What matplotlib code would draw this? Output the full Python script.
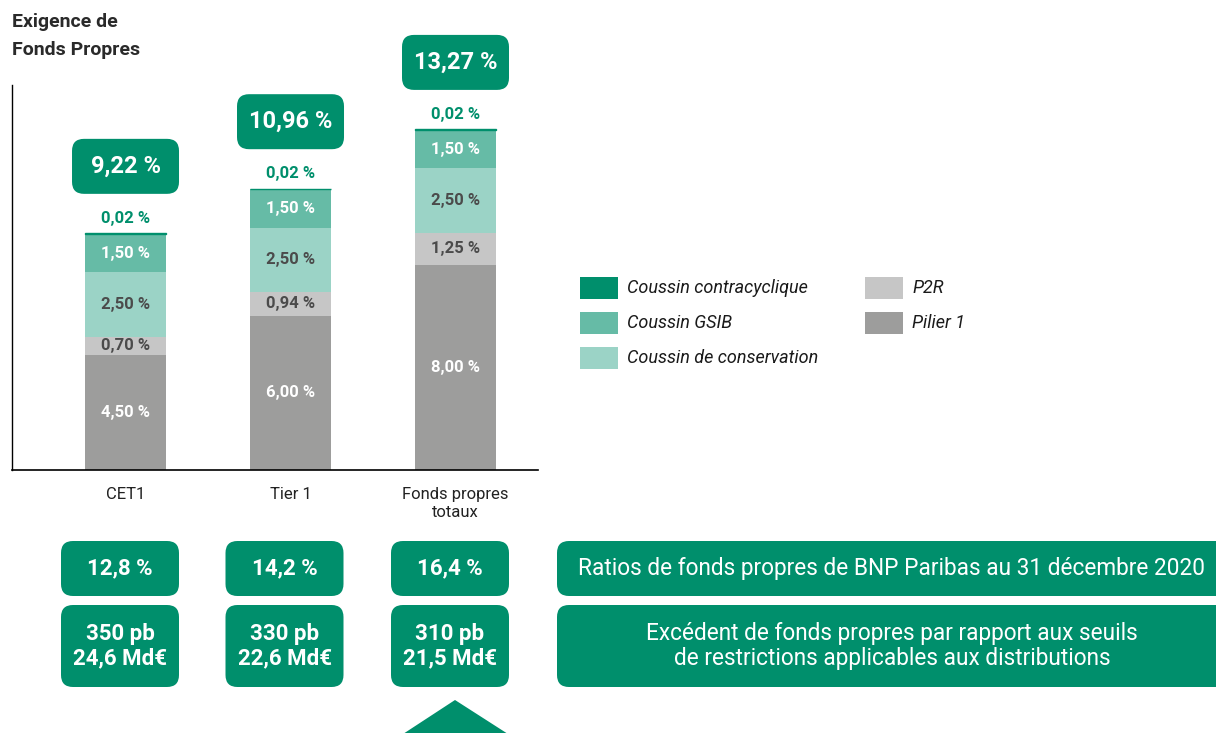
import matplotlib.pyplot as plt
from matplotlib.patches import FancyBboxPatch, Rectangle, Polygon

plt.rcParams['font.family'] = ['Roboto', 'DejaVu Sans']

# data
categories = ["CET1", "Tier 1", "Fonds propres\ntotaux"]
pilier1 = [4.50, 6.00, 8.00]
p2r = [0.70, 0.94, 1.25]
conservation = [2.50, 2.50, 2.50]
gsib = [1.50, 1.50, 1.50]
contracyclique = [0.02, 0.02, 0.02]
totals = ["9,22 %", "10,96 %", "13,27 %"]
ratios = ["12,8 %", "14,2 %", "16,4 %"]
excedents = ["350 pb\n24,6 Md€", "330 pb\n22,6 Md€", "310 pb\n21,5 Md€"]

GREEN = "#008f6c"
C_GSIB = "#66bba6"
C_CONS = "#9bd3c6"
C_P2R = "#c6c6c6"
C_P1 = "#9d9d9c"
DARK = "#4b4b4b"

W, H = 1216, 733
fig = plt.figure(figsize=(W / 100, H / 100), dpi=100)

# overlay in pixel coordinates
ov = fig.add_axes([0, 0, 1, 1])
ov.set_xlim(0, W); ov.set_ylim(H, 0); ov.axis('off')

ax = fig.add_axes([12 / W, (H - 470) / H, 526 / W, 385 / H])
ax.set_xlim(-0.688, 2.50)
ax.set_ylim(0, 15)
for s in ['top', 'right']:
    ax.spines[s].set_visible(False)
ax.spines['left'].set_linewidth(1)
ax.spines['bottom'].set_linewidth(1.2)
ax.set_xticks([]); ax.set_yticks([])
ax.patch.set_alpha(0)

x = range(len(categories))
bw = 0.49
segs = [(pilier1, C_P1, 'white'), (p2r, C_P2R, DARK), (conservation, C_CONS, DARK),
        (gsib, C_GSIB, 'white')]
bottom = [0, 0, 0]
for vals, col, tc in segs:
    ax.bar(x, vals, bw, bottom=bottom, color=col)
    for i, v in enumerate(vals):
        ax.text(i, bottom[i] + v / 2, f"{v:.2f} %".replace('.', ','), ha='center', va='center',
                color=tc, fontsize=12, fontweight='bold')
    bottom = [b + v for b, v in zip(bottom, vals)]
ax.bar(x, contracyclique, bw, bottom=bottom, color=GREEN, edgecolor=GREEN, linewidth=1)
tops = [b + v for b, v in zip(bottom, contracyclique)]
for i, v in enumerate(contracyclique):
    ax.annotate(f"{v:.2f} %".replace('.', ','), xy=(i, tops[i]), xytext=(0, 15),
                textcoords='offset pixels', ha='center', va='center', color=GREEN,
                fontsize=12, fontweight='bold')
    ax.annotate(categories[i], xy=(i, 0), xytext=(0, -17), textcoords='offset pixels',
                ha='center', va='top', fontsize=12, color='#222222', linespacing=1.25)

# total boxes above bars, positioned from the data
fig.canvas.draw()
for i, t in enumerate(totals):
    px, py = ax.transData.transform((i, tops[i]))
    cx, cy = px, H - py - 67
    ov.add_patch(FancyBboxPatch((cx - 41, cy - 15), 82, 30,
                                boxstyle="round,pad=12.5,rounding_size=12",
                                fc=GREEN, ec='none'))
    ov.text(cx, cy, t, ha='center', va='center', color='white', fontsize=17,
            fontweight='bold')

# title
ov.text(12, 22, "Exigence de", fontsize=14, fontweight='bold', color='#2a2a2a', va='center')
ov.text(12, 50, "Fonds Propres", fontsize=14, fontweight='bold', color='#2a2a2a', va='center')

# legend
leg = [("Coussin contracyclique", GREEN, 580, 288), ("Coussin GSIB", C_GSIB, 580, 323),
       ("Coussin de conservation", C_CONS, 580, 358), ("P2R", C_P2R, 865, 288),
       ("Pilier 1", C_P1, 865, 323)]
for lab, col, lx, ly in leg:
    ov.add_patch(Rectangle((lx, ly - 11), 38, 22, fc=col, ec='none'))
    ov.text(lx + 47, ly, lab, fontsize=13, fontstyle='italic', va='center', color='#1a1a1a')

# bottom boxes
centers = [120, 284.5, 450]
for cx, r, e in zip(centers, ratios, excedents):
    ov.add_patch(FancyBboxPatch((cx - 47, 553), 94, 31,
                                boxstyle="round,pad=12,rounding_size=12", fc=GREEN, ec='none'))
    ov.text(cx, 568, r, ha='center', va='center', color='white', fontsize=16, fontweight='bold')
    ov.add_patch(FancyBboxPatch((cx - 47, 617), 94, 58,
                                boxstyle="round,pad=12,rounding_size=12", fc=GREEN, ec='none'))
    ov.text(cx, 646, e, ha='center', va='center', color='white', fontsize=16,
            fontweight='bold', linespacing=1.15)

ov.add_patch(FancyBboxPatch((569, 553), 700, 31,
                            boxstyle="round,pad=12,rounding_size=12", fc=GREEN, ec='none'))
ov.text(892, 568, "Ratios de fonds propres de BNP Paribas au 31 décembre 2020",
        ha='center', va='center', color='white', fontsize=16.3)
ov.add_patch(FancyBboxPatch((569, 617), 700, 58,
                            boxstyle="round,pad=12,rounding_size=12", fc=GREEN, ec='none'))
ov.text(892, 646, "Excédent de fonds propres par rapport aux seuils\nde restrictions applicables aux distributions",
        ha='center', va='center', color='white', fontsize=16.3, linespacing=1.15)

ov.add_patch(Polygon([(403, 734), (455, 700), (508, 734)], closed=True, fc=GREEN, ec='none'))

fig.savefig("out.png", dpi=100)
